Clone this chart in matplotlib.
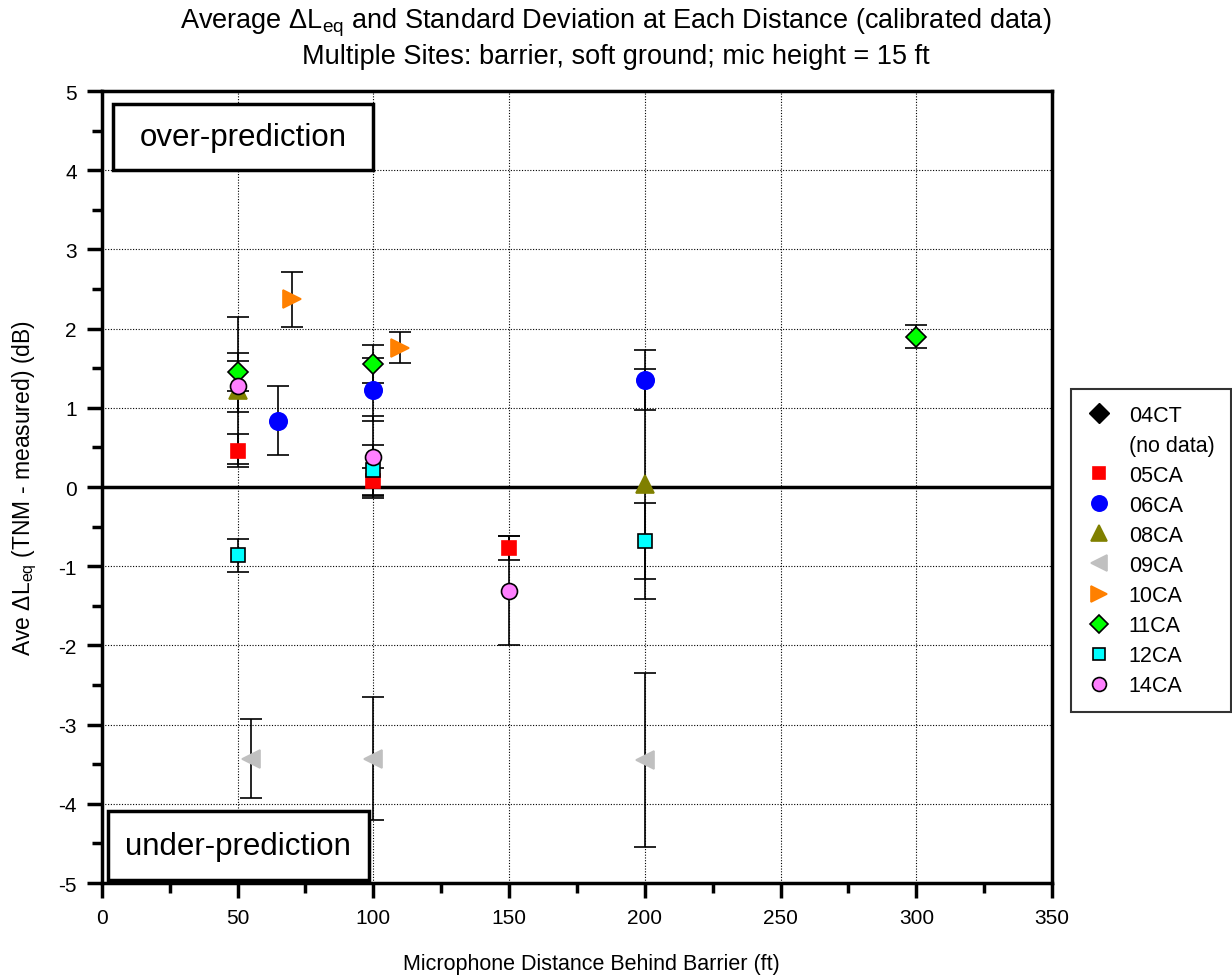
import matplotlib.pyplot as plt
from matplotlib.lines import Line2D
from matplotlib.patches import Rectangle
from matplotlib.ticker import MultipleLocator

plt.rcParams['font.family'] = ['Liberation Sans', 'DejaVu Sans']
plt.rcParams['mathtext.fontset'] = 'custom'
plt.rcParams['mathtext.rm'] = 'Liberation Sans'
plt.rcParams['mathtext.it'] = 'Liberation Sans:italic'
plt.rcParams['axes.unicode_minus'] = False

# site data: distance (ft), mean delta Leq (dB), standard deviation (dB)
x_05CA = [50, 100, 150]
y_05CA = [0.46, 0.07, -0.77]
e_05CA = [0.21, 0.17, 0.15]

x_06CA = [65, 100, 200]
y_06CA = [0.84, 1.23, 1.35]
e_06CA = [0.43, 0.40, 0.375]

x_08CA = [50, 200]
y_08CA = [1.22, 0.04]
e_08CA = [0.93, 1.45]

x_09CA = [55, 100, 200]
y_09CA = [-3.43, -3.43, -3.45]
e_09CA = [0.50, 0.78, 1.10]

x_10CA = [70, 110]
y_10CA = [2.37, 1.76]
e_10CA = [0.35, 0.20]

x_11CA = [50, 100, 300]
y_11CA = [1.45, 1.55, 1.90]
e_11CA = [0.24, 0.24, 0.14]

x_12CA = [50, 100, 200]
y_12CA = [-0.86, 0.21, -0.68]
e_12CA = [0.21, 0.32, 0.48]

x_14CA = [50, 100, 150]
y_14CA = [1.27, 0.38, -1.31]
e_14CA = [0.32, 0.52, 0.69]

sites = [
    ('05CA', x_05CA, y_05CA, e_05CA, 's', '#FF0000', 'none', 10.5),
    ('06CA', x_06CA, y_06CA, e_06CA, 'o', '#0000FF', 'none', 12.5),
    ('08CA', x_08CA, y_08CA, e_08CA, '^', '#808000', 'none', 13),
    ('09CA', x_09CA, y_09CA, e_09CA, '<', '#C0C0C0', 'none', 13),
    ('10CA', x_10CA, y_10CA, e_10CA, '>', '#FF8000', 'none', 13),
    ('11CA', x_11CA, y_11CA, e_11CA, 'D', '#00FF00', 'black', 10.5),
    ('12CA', x_12CA, y_12CA, e_12CA, 's', '#00FFFF', 'black', 10.5),
    ('14CA', x_14CA, y_14CA, e_14CA, 'o', '#FF80FF', 'black', 11.5),
]

fig = plt.figure(figsize=(12.32, 9.79), dpi=100)
ax = fig.add_axes([0.0826, 0.097, 0.7714, 0.809])

ax.grid(True, which='major', color='black', linestyle=(0, (1, 1.5)), linewidth=0.8)
ax.axhline(0, color='black', linewidth=2.5, zorder=2)

handles = [Line2D([], [], marker='D', color='black', linestyle='none', markersize=10),
           Line2D([], [], linestyle='none')]
labels = ['04CT', '(no data)']
for name, xs, ys, es, mk, col, edge, ms in sites:
    ec = col if edge == 'none' else edge
    ax.errorbar(xs, ys, yerr=es, fmt=mk, color=col, mfc=col, mec=ec, mew=1.2,
                markersize=ms, ecolor='black', elinewidth=1.2, capsize=8, capthick=1.2,
                zorder=3)
    handles.append(Line2D([], [], marker=mk, color=col, mfc=col, mec=ec, mew=1.2,
                          linestyle='none', markersize=ms - 1.5))
    labels.append(name)

ax.set_xlim(0, 350)
ax.set_ylim(-5, 5)
ax.xaxis.set_major_locator(MultipleLocator(50))
ax.xaxis.set_minor_locator(MultipleLocator(25))
ax.yaxis.set_major_locator(MultipleLocator(1))
ax.yaxis.set_minor_locator(MultipleLocator(0.5))
ax.tick_params(which='major', direction='out', length=11, width=2.5, labelsize=15,
               colors='black', pad=7)
ax.tick_params(which='minor', direction='out', length=7, width=2.5)
for s in ax.spines.values():
    s.set_linewidth(2.5)

ax.set_xlabel('Microphone Distance Behind Barrier (ft)', fontsize=15.5, labelpad=19)
ax.xaxis.label.set_x(0.515)
ax.set_ylabel(r'Ave $\Delta$L$_{\rm eq}$ (TNM - measured) (dB)', fontsize=16.5, labelpad=14)

fig.text(0.5, 1 - 23 / 979, r'Average $\Delta$L$_{\rm eq}$ and Standard Deviation at Each Distance (calibrated data)',
         ha='center', va='center', fontsize=19.5)
fig.text(0.5, 1 - 57 / 979, 'Multiple Sites: barrier, soft ground; mic height = 15 ft',
         ha='center', va='center', fontsize=19.5)

# annotation boxes
ax.add_patch(Rectangle((4, 4.0), 96, 0.83, facecolor='white', edgecolor='black',
                       linewidth=2.5, zorder=5))
ax.text(52, 4.415, 'over-prediction', fontsize=22.5, ha='center', va='center', zorder=6)
ax.add_patch(Rectangle((2.2, -4.96), 96.1, 0.87, facecolor='white', edgecolor='black',
                       linewidth=2.5, zorder=5))
ax.text(50.25, -4.53, 'under-prediction', fontsize=22.5, ha='center', va='center', zorder=6)

leg = fig.legend(handles, labels, loc='upper left', bbox_to_anchor=(0.869, 0.602),
                 frameon=True, fancybox=False, edgecolor='black',
                 handlelength=1.1, handletextpad=0.85, labelspacing=0.42, borderpad=0.75,
                 borderaxespad=0.0,
                 prop={'family': 'Liberation Sans', 'size': 15.5})
leg.get_frame().set_linewidth(1.5)

fig.savefig('out.png', dpi=100)
